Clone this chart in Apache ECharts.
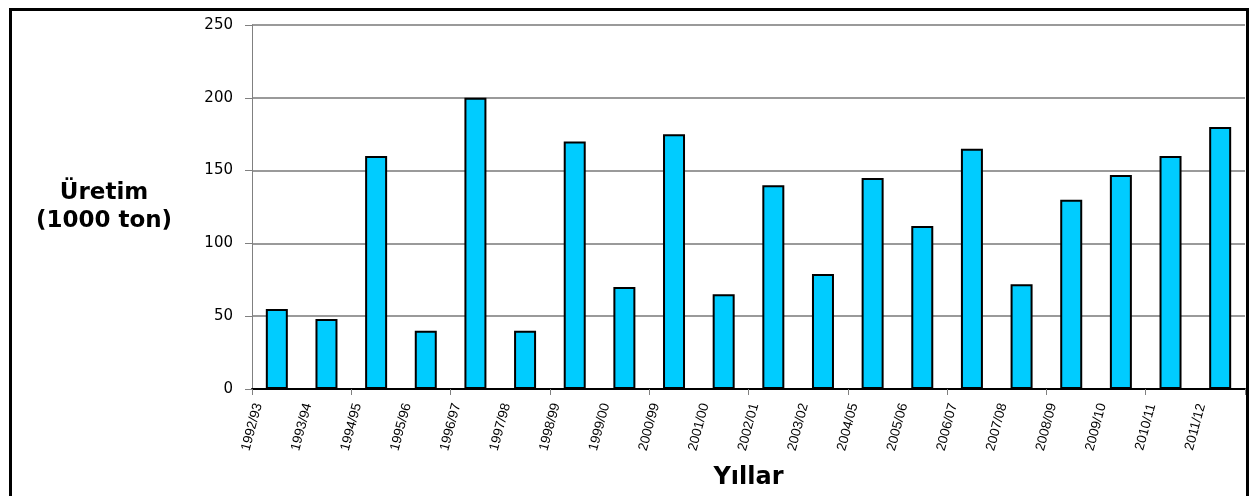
<!DOCTYPE html>
<html>
<head>
<meta charset="utf-8">
<script src="https://cdn.jsdelivr.net/npm/echarts@6/dist/echarts.min.js"></script>
<style>
  html, body { margin: 0; padding: 0; background: #fff; }
  #frame {
    position: absolute;
    left: 9px;
    top: 8px;
    width: 1234px;
    height: 520px;
    border: 3px solid #000;
  }
  #chart {
    position: absolute;
    left: 0;
    top: 0;
    width: 1252px;
    height: 496px;
  }
</style>
</head>
<body>
<div id="frame"></div>
<div id="chart"></div>
<script>
// yillar (kategori) ve uretim degerleri
const years = [
  '1992/93', '1993/94', '1994/95', '1995/96', '1996/97',
  '1997/98', '1998/99', '1999/00', '2000/99', '2001/00',
  '2002/01', '2003/02', '2004/05', '2005/06', '2006/07',
  '2007/08', '2008/09', '2009/10', '2010/11', '2011/12'
]
const production = [
  55, 48, 160, 40, 200,
  40, 170, 70, 175, 65,
  140, 79, 145, 112, 165,
  72, 130, 147, 160, 180
]
const yTicks = [0, 50, 100, 150, 200, 250]

const chart = echarts.init(document.getElementById('chart'))

const option = {
  animation: false,
  grid: {
    left: 252,
    right: 7,
    top: 25,
    bottom: 107
  },
  xAxis: [
    {
      // bar axis: line + ticks at category boundaries
      type: 'category',
      data: years,
      boundaryGap: true,
      axisLine: { lineStyle: { color: '#000', width: 2 } },
      axisTick: { show: true, length: 6, lineStyle: { color: '#808080', width: 1 } },
      axisLabel: { show: false },
      name: 'Yıllar',
      nameLocation: 'middle',
      nameGap: 77,
      nameTextStyle: {
        fontFamily: 'DejaVu Sans',
        fontWeight: 'bold',
        fontSize: 24,
        color: '#000'
      }
    },
    {
      // label axis: labels sit on the boundary ticks like the original
      type: 'category',
      data: years.concat(['']),
      boundaryGap: false,
      position: 'bottom',
      axisLine: { show: false },
      axisTick: { show: false },
      axisLabel: {
        interval: 0,
        rotate: 75,
        align: 'center',
        verticalAlign: 'middle',
        margin: 38,
        fontFamily: 'Liberation Sans',
        fontSize: 13.5,
        color: '#000'
      }
    }
  ],
  yAxis: {
    type: 'value',
    min: yTicks[0],
    max: yTicks[yTicks.length - 1],
    interval: 50,
    axisLine: { show: true, lineStyle: { color: '#808080', width: 1 } },
    axisTick: { show: true, length: 7, lineStyle: { color: '#808080', width: 1 } },
    axisLabel: {
      margin: 19,
      fontFamily: 'DejaVu Sans',
      fontSize: 15,
      color: '#000'
    },
    splitLine: { lineStyle: { color: '#787878', width: 1.5 } },
    name: 'Üretim\n(1000 ton)',
    nameLocation: 'middle',
    nameRotate: 0,
    nameGap: 148,
    nameTextStyle: {
      align: 'center',
      verticalAlign: 'middle',
      fontFamily: 'DejaVu Sans',
      fontWeight: 'bold',
      fontSize: 23,
      lineHeight: 28,
      color: '#000',
      padding: [0, 0, 4, 0]
    }
  },
  series: [
    {
      type: 'bar',
      xAxisIndex: 0,
      data: production,
      barWidth: 22,
      itemStyle: {
        color: '#00CCFF',
        borderColor: '#000',
        borderWidth: 2
      }
    }
  ]
}

chart.setOption(option)
</script>
</body>
</html>
